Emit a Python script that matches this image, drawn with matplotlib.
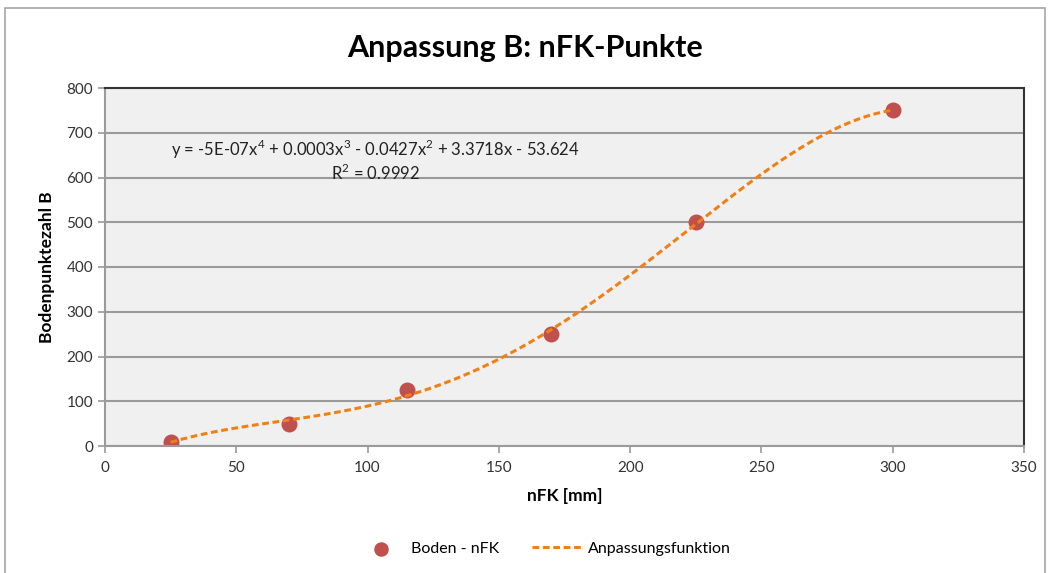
#!/usr/bin/env python3
"""
Anpassung B: nFK-Punkte -> Polynom 4. Grades durch die Bodenpunkte
"""

import numpy as np
import matplotlib.pyplot as plt
from matplotlib.patches import Rectangle

# Messpunkte
NFK_MM = [25, 70, 115, 170, 225, 300]
BODENPUNKTE = [10, 50, 125, 250, 500, 750]

X_TICKS = [0, 50, 100, 150, 200, 250, 300, 350]
Y_TICKS = [0, 100, 200, 300, 400, 500, 600, 700, 800]

EQ_TEXT = "y = -5E-07x$^4$ + 0.0003x$^3$ - 0.0427x$^2$ + 3.3718x - 53.624\nR$^2$ = 0.9992"

FONT = "Lato"
MARKER_COL = "#c0504d"
FIT_COL = "#f07f14"

plt.rcParams["font.family"] = [FONT, "DejaVu Sans"]
plt.rcParams["mathtext.fontset"] = "custom"
plt.rcParams["mathtext.rm"] = FONT

fig = plt.figure(figsize=(10.5, 5.73), dpi=100)
# Rahmen um das ganze Diagramm (wie in Excel)
fig.patches.append(Rectangle((0.005, -0.05), 0.99, 1.036, transform=fig.transFigure,
                             fill=False, edgecolor="#a6a6a6", linewidth=1.2))

ax = fig.add_axes([0.1, 1 - 446/573, (1024 - 105)/1050, (446 - 88)/573])
ax.set_facecolor("#f0f0f0")

# Polynom-Fit (Grad 4), wie die Excel-Trendlinie
coef = np.polyfit(NFK_MM, BODENPUNKTE, 4)
xs = np.linspace(min(NFK_MM), max(NFK_MM), 300)
ax.plot(xs, np.polyval(coef, xs), linestyle=(0, (2.2, 1.2)), color=FIT_COL,
        linewidth=2.2, zorder=3, label="Anpassungsfunktion")
ax.scatter(NFK_MM, BODENPUNKTE, s=110, color=MARKER_COL, zorder=2, label="Boden - nFK")

ax.set_xlim(0, 350)
ax.set_ylim(0, 800)
ax.set_xticks(X_TICKS)
ax.set_yticks(Y_TICKS)
ax.grid(axis="y", color="#9a9a9a", linewidth=1.5, zorder=0)
ax.set_axisbelow(True)
ax.tick_params(axis="both", direction="out", length=5, color="#9a9a9a",
               labelsize=11, labelcolor="#333333", width=1.2)
ax.tick_params(axis="x", pad=6)

for side in ["left", "bottom"]:
    ax.spines[side].set_color("#9a9a9a")
    ax.spines[side].set_linewidth(1.5)
for side in ["top", "right"]:
    ax.spines[side].set_color("#333333")
    ax.spines[side].set_linewidth(1.5)

ax.set_xlabel("nFK [mm]", fontsize=12.5, fontweight="bold", labelpad=9)
ax.set_ylabel("Bodenpunktezahl B", fontsize=12.5, fontweight="bold", labelpad=8)

ax.text(103, 638, EQ_TEXT, ha="center", va="center", multialignment="center",
        fontsize=12, color="#222222", linespacing=1.15)

fig.text(0.5, 1 - 48/573, "Anpassung B: nFK-Punkte", ha="center", va="center",
         fontsize=22, fontweight="bold")

handles, labels = ax.get_legend_handles_labels()
fig.legend(handles[::-1], labels[::-1], loc="center", bbox_to_anchor=(0.517, 1 - 549/573),
           ncol=2, frameon=False, fontsize=11.5, handlelength=3.3, handletextpad=0.25,
           columnspacing=2.0, markerscale=0.9)

plt.savefig("out.png", dpi=100)
plt.close()
